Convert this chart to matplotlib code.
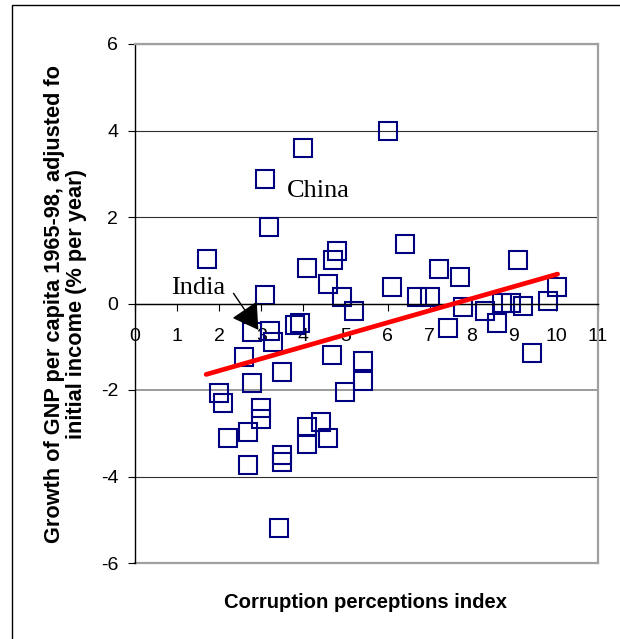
import matplotlib
matplotlib.use('Agg')
import matplotlib.pyplot as plt
from matplotlib.patches import Rectangle

# corruption perceptions index (x) and adjusted GNP growth (y)
cpi = [1.70, 3.09, 4.00, 6.00, 3.19, 4.79, 4.70, 4.08, 4.59, 4.91,
       5.20, 3.09, 6.41, 6.10, 6.71, 7.01, 7.23, 7.72, 9.11, 10.02,
       9.82, 7.80, 8.32, 7.43, 8.61, 8.71, 8.93, 9.23, 9.44, 2.79,
       3.21, 3.29, 3.80, 3.91, 2.59, 3.50, 2.79, 4.69, 5.41, 5.41,
       5.00, 2.00, 2.08, 2.99, 2.99, 2.20, 2.69, 2.69, 4.08, 4.08,
       4.41, 4.59, 3.49, 3.49, 3.41]
growth = [1.02, 2.89, 3.60, 4.00, 1.76, 1.21, 1.01, 0.83, 0.46, 0.16,
          -0.17, 0.19, 1.37, 0.39, 0.14, 0.14, 0.79, 0.61, 1.01, 0.39,
          0.06, -0.09, -0.18, -0.56, -0.44, 0.01, 0.01, -0.06, -1.15, -0.67,
          -0.64, -0.90, -0.50, -0.44, -1.23, -1.58, -1.84, -1.19, -1.33, -1.79,
          -2.04, -2.08, -2.29, -2.42, -2.68, -3.10, -2.96, -3.73, -2.85, -3.25,
          -2.75, -3.10, -3.51, -3.67, -5.18]

# fitted trend line end points
trend_x = [1.69, 10.04]
trend_y = [-1.64, 0.68]

xticks = list(range(0, 12))
yticks = [-6, -4, -2, 0, 2, 4, 6]

sans = 'Liberation Sans'
serif = 'Liberation Serif'
plt.rcParams['font.family'] = sans
plt.rcParams['axes.unicode_minus'] = False

fig = plt.figure(figsize=(6.2, 6.39), dpi=100)
ax = fig.add_axes([135/620, 1 - 563/639, 463/620, 519/639])

ax.plot(cpi, growth, 's', ms=13, mfc='none', mec='#000080', mew=1.5,
        zorder=2)
ax.plot(trend_x, trend_y, '-', color='#ff0000', lw=3.4,
        solid_capstyle='round', zorder=3)

ax.set_xlim(0, 11)
ax.set_ylim(-6, 6)
ax.set_xticks(xticks)
ax.set_yticks(yticks)

ax.spines['bottom'].set_position(('data', 0))
ax.spines['bottom'].set_color('black')
ax.spines['bottom'].set_linewidth(1.0)
ax.spines['left'].set_color('black')
ax.spines['left'].set_linewidth(1.0)
for s in ['top', 'right']:
    ax.spines[s].set_color('#a0a0a0')
    ax.spines[s].set_linewidth(1.6)

ax.tick_params(axis='x', direction='out', length=5, width=0.8, pad=12.5,
               labelsize=14)
ax.tick_params(axis='y', direction='out', length=5, width=0.8, pad=7,
               labelsize=14)

ax.grid(axis='y', color='#303030', lw=0.8, zorder=1)
for val, gl in zip(yticks, ax.yaxis.get_gridlines()):
    if val == -2:
        gl.set_color('#808080')
        gl.set_linewidth(1.1)
    if val == -6:
        gl.set_color('#a0a0a0')
        gl.set_linewidth(1.6)
        gl.set_clip_on(False)
ax.set_axisbelow(True)

ax.text(0.85, 0.22, 'India', family=serif, fontsize=19, ha='left',
        va='baseline')
ax.text(3.60, 2.46, 'China', family=serif, fontsize=19, ha='left',
        va='baseline')
ax.annotate('', xy=(2.93, -0.61), xytext=(2.34, 0.235),
            arrowprops=dict(arrowstyle='-|>,head_length=1.0,head_width=0.6',
                            mutation_scale=16, color='black', lw=1.0,
                            shrinkA=0, shrinkB=0))

fig.text(366/620, 1 - 602/639, 'Corruption perceptions index', family=sans,
         fontsize=14.6, fontweight='bold', ha='center', va='center')
fig.text(65.5/620, 1 - 304/639,
         'Growth of GNP per capita 1965-98, adjusted fo\n'
         'initial income (% per year)',
         family=sans, fontsize=15.7, fontweight='bold', rotation=90,
         ha='center', va='center', multialignment='center',
         linespacing=1.1)

# frame around the whole picture
fig.patches.append(Rectangle((12/620, -0.1), 1.2, 1.1 - 5.5/639,
                             transform=fig.transFigure, fill=False,
                             edgecolor='black', lw=1.0))

fig.savefig('out.png', dpi=100)
